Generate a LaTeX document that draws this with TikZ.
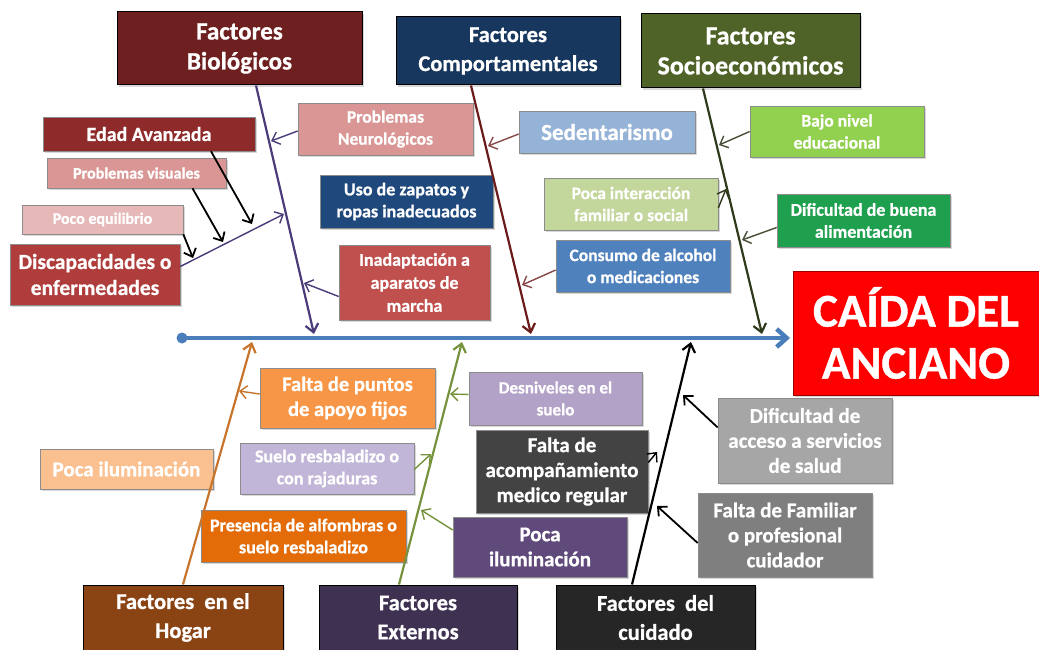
\documentclass[tikz,border=0pt]{standalone}
\usepackage{fontspec}
\setmainfont{Carlito}[BoldFeatures={FakeBold=0.8}]
\usetikzlibrary{arrows.meta,shadows}
\definecolor{cBio}{HTML}{6E1F1F}
\definecolor{cComp}{HTML}{17375E}
\definecolor{cSocio}{HTML}{4F6228}
\definecolor{cEdad}{HTML}{8E2A2A}
\definecolor{cPvis}{HTML}{D99694}
\definecolor{cPequi}{HTML}{E6B9B8}
\definecolor{cDisc}{HTML}{AE3D3B}
\definecolor{cNeuro}{HTML}{D99694}
\definecolor{cZap}{HTML}{1F497D}
\definecolor{cInad}{HTML}{C0504D}
\definecolor{cSed}{HTML}{95B3D7}
\definecolor{cInter}{HTML}{C3D69B}
\definecolor{cCons}{HTML}{4F81BD}
\definecolor{cBajo}{HTML}{92D050}
\definecolor{cAlim}{HTML}{1FA04F}
\definecolor{cCaida}{HTML}{FF0000}
\definecolor{cPuntos}{HTML}{F79646}
\definecolor{cIlumL}{HTML}{FAC090}
\definecolor{cSuelo}{HTML}{C2B6D8}
\definecolor{cAlfom}{HTML}{E36C09}
\definecolor{cDesn}{HTML}{B3A2C7}
\definecolor{cAcomp}{HTML}{434343}
\definecolor{cIlumM}{HTML}{604A7B}
\definecolor{cAcceso}{HTML}{A6A6A6}
\definecolor{cFamil}{HTML}{7F7F7F}
\definecolor{cHogar}{HTML}{8A4414}
\definecolor{cExt}{HTML}{3F3151}
\definecolor{cCuid}{HTML}{262626}
\definecolor{lBio}{HTML}{4B3B78}
\definecolor{lComp}{HTML}{6B1A1A}
\definecolor{lSocio}{HTML}{2E3A1A}
\definecolor{lHogar}{HTML}{C8752B}
\definecolor{lExt}{HTML}{76923C}
\definecolor{lSpine}{HTML}{4A7EBB}
\begin{document}
\begin{tikzpicture}[x=1pt,y=-1pt,
  box/.style={draw=black!45, line width=0.6pt, text=white, align=center, inner sep=1pt,
    drop shadow={shadow xshift=1.5pt,shadow yshift=-2pt,opacity=0.3}},
  title/.style={box, draw=black, line width=1pt},
  bone/.style={line width=2.2pt, -{Straight Barb[length=8pt,width=13pt]}},
  twig/.style={line width=1.4pt, -{Straight Barb[length=7pt,width=13pt]}},
]
\useasboundingbox (0,0) rectangle (1039,650);
\fill[white] (0,0) rectangle (1039,650);

% ---- top titles
\node[title, fill=cBio, minimum width=245pt, minimum height=73pt,
  font=\fontsize{25}{30}\selectfont\bfseries] (bio) at (239.5,48.5) {Factores\\Biológicos};
\node[title, fill=cComp, minimum width=224pt, minimum height=68pt,
  font=\fontsize{22.5}{29}\selectfont\bfseries] (comp) at (508,51) {Factores\\Comportamentales};
\node[title, fill=cSocio, minimum width=219pt, minimum height=74pt,
  font=\fontsize{26}{30}\selectfont\bfseries] (socio) at (750.5,51) {Factores\\Socioeconómicos};

% ---- biological causes
\node[box, fill=cEdad, minimum width=212pt, minimum height=34pt,
  font=\fontsize{20}{22}\selectfont\bfseries] (edad) at (149,134) {Edad Avanzada};
\node[box, fill=cPvis, minimum width=179pt, minimum height=30pt,
  font=\fontsize{16}{17}\selectfont\bfseries] (pvis) at (136.5,173) {Problemas visuales};
\node[box, fill=cPequi, minimum width=161pt, minimum height=29pt,
  font=\fontsize{16}{17}\selectfont\bfseries] (pequi) at (102.5,219.5) {Poco equilibrio};
\node[box, fill=cDisc, minimum width=170pt, minimum height=61pt,
  font=\fontsize{21.5}{26}\selectfont\bfseries] (disc) at (95,274.5) {Discapacidades o\\enfermedades};
\node[box, fill=cNeuro, minimum width=175pt, minimum height=52pt,
  font=\fontsize{17.5}{22}\selectfont\bfseries] (neuro) at (385.5,129) {Problemas\\Neurológicos};
\node[box, fill=cZap, minimum width=173pt, minimum height=53pt,
  font=\fontsize{18}{22}\selectfont\bfseries] (zap) at (406.5,201.5) {Uso de zapatos y\\ropas inadecuados};
\node[box, fill=cInad, minimum width=151pt, minimum height=75pt,
  font=\fontsize{18}{23}\selectfont\bfseries] (inad) at (414.5,282.5) {Inadaptación a\\aparatos de\\marcha};

% ---- behavioural causes
\node[box, fill=cSed, minimum width=176pt, minimum height=42pt,
  font=\fontsize{23}{25}\selectfont\bfseries] (sed) at (607,132) {Sedentarismo};
\node[box, fill=cInter, minimum width=174pt, minimum height=52pt,
  font=\fontsize{17.5}{22}\selectfont\bfseries] (inter) at (631,204) {Poca interacción\\familiar o social};
\node[box, fill=cCons, minimum width=174pt, minimum height=52pt,
  font=\fontsize{17.5}{22}\selectfont\bfseries] (cons) at (643,266) {Consumo de alcohol\\o medicaciones};

% ---- socioeconomic causes
\node[box, fill=cBajo, minimum width=174pt, minimum height=51pt,
  font=\fontsize{17.5}{22}\selectfont\bfseries] (bajo) at (837,131.5) {Bajo nivel\\educacional};
\node[box, fill=cAlim, minimum width=173pt, minimum height=53pt,
  font=\fontsize{18}{22}\selectfont\bfseries] (alim) at (863.5,220.5) {Dificultad de buena\\alimentación};

% ---- effect
\node[box, draw=red!60!black, fill=cCaida, minimum width=246pt, minimum height=124pt,
  font=\fontsize{47}{52}\selectfont\bfseries] (caida) at (916,333) {CAÍDA DEL\\ANCIANO};

% ---- bottom causes
\node[box, fill=cPuntos, minimum width=175pt, minimum height=60pt,
  font=\fontsize{20.5}{25}\selectfont\bfseries] (puntos) at (347.5,398) {Falta de puntos\\de apoyo fijos};
\node[box, fill=cIlumL, minimum width=173pt, minimum height=40pt,
  font=\fontsize{21}{23}\selectfont\bfseries] (ilumL) at (126.5,469) {Poca iluminación};
\node[box, fill=cSuelo, minimum width=174pt, minimum height=51pt,
  font=\fontsize{18}{22}\selectfont\bfseries] (suelo) at (327,468.5) {Suelo resbaladizo o\\con rajaduras};
\node[box, fill=cAlfom, minimum width=205pt, minimum height=52pt,
  font=\fontsize{18}{22}\selectfont\bfseries] (alfom) at (303.5,536) {Presencia de alfombras o\\suelo resbaladizo};
\node[box, fill=cDesn, minimum width=173pt, minimum height=53pt,
  font=\fontsize{17}{22}\selectfont\bfseries] (desn) at (555.5,398.5) {Desniveles en el\\suelo};
\node[box, fill=cAcomp, minimum width=172pt, minimum height=83pt,
  font=\fontsize{21}{25}\selectfont\bfseries] (acomp) at (562,471.5) {Falta de\\acompañamiento\\medico regular};
\node[box, fill=cIlumM, minimum width=174pt, minimum height=60pt,
  font=\fontsize{21}{25}\selectfont\bfseries] (ilumM) at (540,547) {Poca\\iluminación};
\node[box, fill=cAcceso, minimum width=174pt, minimum height=85pt,
  font=\fontsize{21}{25}\selectfont\bfseries] (acceso) at (805,440.5) {Dificultad de\\acceso a servicios\\de salud};
\node[box, fill=cFamil, minimum width=174pt, minimum height=84pt,
  font=\fontsize{21}{25}\selectfont\bfseries] (famil) at (785,535) {Falta de Familiar\\o profesional\\cuidador};

% ---- bottom titles
\node[title, fill=cHogar, minimum width=200pt, minimum height=65pt,
  font=\fontsize{22.5}{29}\selectfont\bfseries] (hogar) at (183,617.5) {Factores\ \ en el\\Hogar};
\node[title, fill=cExt, minimum width=198pt, minimum height=65pt,
  font=\fontsize{22.5}{29}\selectfont\bfseries] (ext) at (418,617.5) {Factores\\Externos};
\node[title, fill=cCuid, minimum width=199pt, minimum height=65pt,
  font=\fontsize{22.5}{29}\selectfont\bfseries] (cuid) at (655.5,617.5) {Factores\ \ del\\cuidado};

% ---- spine
\node[circle, fill=lSpine, inner sep=0pt, minimum size=11pt] (tail) at (182,338) {};
\coordinate (head) at (790,338);
\draw[lSpine, line width=4.5pt, -{Straight Barb[length=10pt,width=18pt]}] (tail.center) -- (head);

% ---- bones (coordinates on the spine)
\coordinate (bioE) at (314,334);
\coordinate (compE) at (531,334);
\coordinate (socioE) at (762,334);
\coordinate (hogarE) at (252,342);
\coordinate (extE) at (462,342);
\coordinate (cuidE) at (691,342);
\draw[bone, lBio] ([xshift=16.5pt]bio.south) -- (bioE);
\draw[bone, lComp] ([xshift=-37pt]comp.south) -- (compE);
\draw[bone, lSocio] ([xshift=-47.5pt]socio.south) -- (socioE);
\draw[bone, lHogar] (hogar.north) -- (hogarE);
\draw[bone, lExt] ([xshift=-19pt]ext.north) -- (extE);
\draw[bone, black] ([xshift=-23.5pt]cuid.north) -- (cuidE);

% ---- twig targets on bones
\coordinate (tNeuro) at (271,141);
\coordinate (tInad) at (304,283);
\coordinate (tDisc) at (284,214);
\coordinate (tSed) at (488,146);
\coordinate (tCons) at (522,285);
\coordinate (tBajo) at (719,145);
\coordinate (tAlim) at (742,240);
\coordinate (tInter) at (726,189);
\coordinate (tEdad) at (252,224);
\coordinate (tPvis) at (223,242);
\coordinate (tPequi) at (193,258);
\coordinate (tPuntos) at (239,391);
\coordinate (tDesn) at (450,394);
\coordinate (tSuelo) at (431,454);
\coordinate (tIlumM) at (421,510);
\coordinate (tAcomp) at (657,452);
\coordinate (tAcceso) at (683,395);
\coordinate (tFamil) at (657,506);

% ---- twigs
\draw[twig, lBio] ([yshift=-2pt]neuro.west) -- (tNeuro);
\draw[twig, lBio] ([yshift=-14pt]inad.west) -- (tInad);
\draw[twig, lBio] ([yshift=8pt]disc.east) -- (tDisc);
\draw[twig, black, line width=1.8pt] ([xshift=62pt]edad.south) -- (tEdad);
\draw[twig, black, line width=1.8pt] ([xshift=56pt]pvis.south) -- (tPvis);
\draw[twig, black, line width=1.8pt] (pequi.south east) -- (tPequi);
\draw[twig, lComp!80!white] ([yshift=-2pt]sed.west) -- (tSed);
\draw[twig, lComp!80!white] ([yshift=-4pt]cons.west) -- (tCons);
\draw[twig, lSocio] ([yshift=-4pt]inter.east) -- (tInter);
\draw[twig, lSocio!70!gray] (bajo.west) -- (tBajo);
\draw[twig, lSocio!70!gray] ([yshift=-7pt]alim.west) -- (tAlim);
\draw[twig, lHogar] ([yshift=4pt]puntos.west) -- (tPuntos);
\draw[twig, lExt] ([yshift=4pt]desn.west) -- (tDesn);
\draw[twig, lExt] ([yshift=-1pt]suelo.east) -- (tSuelo);
\draw[twig, lExt] ([yshift=17pt]ilumM.west) -- (tIlumM);
\draw[twig, black] ([yshift=9pt]acomp.east) -- (tAcomp);
\draw[twig, black, line width=1.8pt] ([yshift=13pt]acceso.west) -- (tAcceso);
\draw[twig, black, line width=1.8pt] ([yshift=-8pt]famil.west) -- (tFamil);
\end{tikzpicture}
\end{document}
